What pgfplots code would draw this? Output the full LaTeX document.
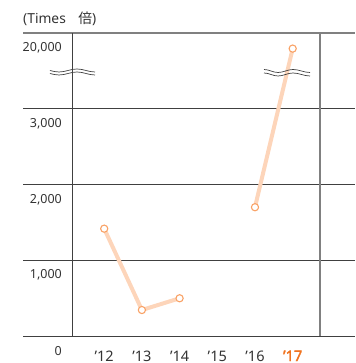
\documentclass[border=0pt]{standalone}
\usepackage{pgfplots}
\pgfplotsset{compat=1.18}
\usepackage{fontspec}
\setmainfont{Noto Sans}[AutoFakeBold=2.5]
\newfontfamily\cjk{Noto Sans CJK JP}
\definecolor{txt}{HTML}{333333}
\definecolor{gridd}{HTML}{404040}
\definecolor{gridg}{HTML}{808080}
\definecolor{peach}{HTML}{FDD5BA}
\definecolor{mk}{HTML}{F9A266}
\definecolor{or17}{HTML}{F07320}
\begin{document}
\begin{tikzpicture}
\useasboundingbox (0,0) rectangle (355pt,363pt);
\begin{axis}[
  at={(23pt,27pt)}, anchor=south west,
  scale only axis, width=332pt, height=303pt,
  xmin=-2.154, xmax=6.653, ymin=0, ymax=4000,
  axis line style={draw=none}, major tick length=0pt, tick style={draw=none},
  y filter/.expression={y>3000 ? 3000+(y-3000)/17 : y},
  xtick={0,1,2,3,4,5},
  xticklabels={’12,’13,’14,’15,’16,{\textcolor{or17}{\bfseries ’17}}},
  ytick={0,1000,2000,3000},
  yticklabels={0,1{,}000,2{,}000,3{,}000},
  extra y ticks={4000}, extra y tick labels={20{,}000},
  extra y tick style={ymajorgrids=true, major grid style={gridg, line width=1.5pt}},
  extra x ticks={5.724}, extra x tick labels={},
  extra x tick style={xmajorgrids=true, major grid style={gridg, line width=1.5pt}},
  ymajorgrids, major grid style={gridd, line width=0.8pt},
  yticklabel style={anchor=east, inner sep=0pt, xshift=39pt, yshift=-15pt, font=\fontsize{12.5}{14}\selectfont, text=txt},
  xticklabel style={anchor=base, inner sep=0pt, yshift=-25pt, font=\fontsize{14.5}{16}\selectfont, text=txt},
  clip=false,
]
\addplot[peach, line width=4pt, mark=*, mark size=3.6pt, mark options={draw=mk, fill=white, line width=1.1pt}] coordinates {(0,1417) (1,343) (2,498)};
\addplot[peach, line width=4pt, mark=*, mark size=3.6pt, mark options={draw=mk, fill=white, line width=1.1pt}] coordinates {(4,1700) (5,16500)};
\end{axis}
\draw[gridd, line width=0.8pt] (72pt,27pt) -- (72pt,330pt);
\draw[gridd, line width=0.7pt] (50pt,292.5pt) sin (59pt,291pt) cos (68pt,292.5pt) sin (77pt,294pt) cos (86pt,292.5pt) sin (95pt,291pt);
\draw[gridd, line width=0.7pt] (50pt,289.5pt) sin (59pt,288pt) cos (68pt,289.5pt) sin (77pt,291pt) cos (86pt,289.5pt) sin (95pt,288pt);
\draw[gridd, line width=0.7pt] (264pt,293.5pt) cos (271pt,292pt) sin (278pt,290.5pt) cos (285.5pt,292pt) sin (293pt,293.5pt) cos (301.5pt,292pt) sin (310pt,290.5pt);
\draw[gridd, line width=0.7pt] (264pt,290pt) cos (271pt,288.5pt) sin (278pt,287pt) cos (285.5pt,288.5pt) sin (293pt,290pt) cos (301.5pt,288.5pt) sin (310pt,287pt);
\node[anchor=base west, inner sep=0pt, font=\fontsize{13.8}{16}\selectfont, text=txt] at (23pt,339.5pt) {(Times\hspace{0.9em}{\cjk 倍})};
\end{tikzpicture}
\end{document}
